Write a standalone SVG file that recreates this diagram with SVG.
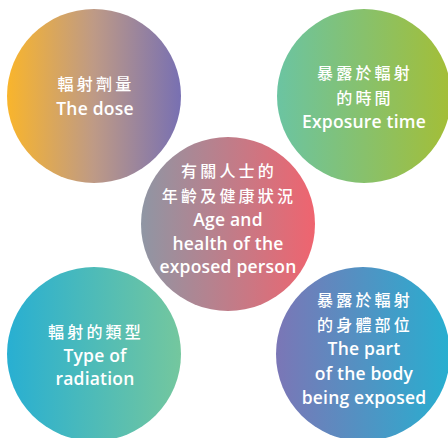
<svg xmlns="http://www.w3.org/2000/svg" width="448" height="438" viewBox="0 0 448 438">
<defs>
<linearGradient id="g1" x1="0" y1="0" x2="1" y2="0"><stop offset="0" stop-color="#F9B52C"/><stop offset="0.5" stop-color="#BE9A86"/><stop offset="1" stop-color="#7870B2"/></linearGradient>
<linearGradient id="g2" x1="0" y1="0" x2="1" y2="0"><stop offset="0" stop-color="#6BC4A2"/><stop offset="1" stop-color="#A4BE36"/></linearGradient>
<linearGradient id="g3" x1="0" y1="0" x2="1" y2="0"><stop offset="0" stop-color="#8F96A4"/><stop offset="1" stop-color="#EF646F"/></linearGradient>
<linearGradient id="g4" x1="0" y1="0" x2="1" y2="0"><stop offset="0" stop-color="#28AFD2"/><stop offset="1" stop-color="#74C79E"/></linearGradient>
<linearGradient id="g5" x1="0" y1="0" x2="1" y2="0"><stop offset="0" stop-color="#7B76B6"/><stop offset="1" stop-color="#27AFD0"/></linearGradient>
</defs>
<style>
text{fill:#fff;font-family:"Open Sans","Noto Sans CJK TC",sans-serif;font-weight:600;font-size:17.5px;letter-spacing:0.2px;text-anchor:middle}
.zh{letter-spacing:3.2px;font-weight:500;font-size:16px}
</style>
<g id="connectors"/>
<g id="dose">
<circle cx="94" cy="96" r="87" fill="url(#g1)"/>
<text class="zh" x="96" y="90">輻射劑量</text>
<text x="95" y="115">The dose</text>
</g>
<g id="time">
<circle cx="364" cy="96" r="87" fill="url(#g2)"/>
<text class="zh" x="365" y="79">暴露於輻射</text>
<text class="zh" x="365" y="104">的時間</text>
<text x="364" y="128">Exposure time</text>
</g>
<g id="person">
<circle cx="228" cy="224" r="87" fill="url(#g3)"/>
<text class="zh" x="229" y="177">有關人士的</text>
<text class="zh" x="229" y="202">年齡及健康狀況</text>
<text x="228" y="226">Age and</text>
<text x="228" y="250">health of the</text>
<text x="228" y="273">exposed person</text>
</g>
<g id="type">
<circle cx="94" cy="354" r="87" fill="url(#g4)"/>
<text class="zh" x="96" y="338">輻射的類型</text>
<text x="95" y="362">Type of</text>
<text x="95" y="385">radiation</text>
</g>
<g id="body">
<circle cx="363" cy="354" r="87" fill="url(#g5)"/>
<text class="zh" x="365" y="306">暴露於輻射</text>
<text class="zh" x="365" y="331">的身體部位</text>
<text x="364" y="355">The part</text>
<text x="364" y="380">of the body</text>
<text x="364" y="404">being exposed</text>
</g>
</svg>
